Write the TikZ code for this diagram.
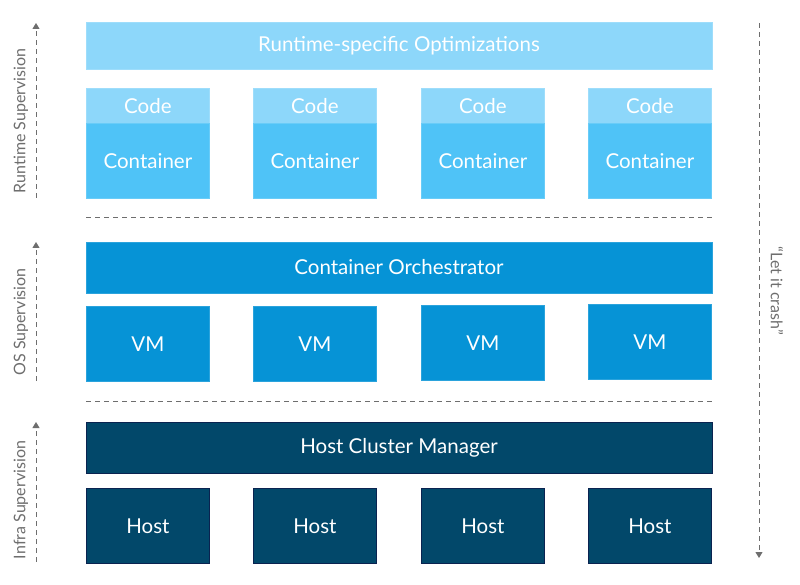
\documentclass[tikz,border=0pt]{standalone}
\usepackage{fontspec}
\setmainfont{Lato}
\usetikzlibrary{arrows.meta,positioning}

\definecolor{codeblue}{HTML}{8DD7FA}
\definecolor{contblue}{HTML}{4FC3F7}
\definecolor{vmblue}{HTML}{0693D6}
\definecolor{hostblue}{HTML}{02486A}
\definecolor{hostline}{HTML}{0A2350}
\definecolor{guidegray}{HTML}{6E6E6E}

\tikzset{
    box/.style={fill=#1, draw=#1!85!white, line width=0.8pt, text=white,
        inner sep=0pt, anchor=north west, minimum width=123pt,
        font=\fontsize{20.5}{22}\selectfont},
    layer/.style={box=#1, anchor=center, minimum width=626pt},
    sep/.style={draw=guidegray, line width=1pt, dash pattern=on 5pt off 4pt},
    guide/.style={sep, -{Triangle[width=7pt,length=6pt]}},
    side/.style={text=guidegray, inner sep=0pt, font=\fontsize{16}{18}\selectfont},
    pics/stack/.style={
        code={
            \node[box=codeblue, minimum height=35pt] (-code) at (0,0) {Code};
            \node[box=contblue, minimum height=75pt] (-cont) at (0,35) {Container};
        }
    }
}

\begin{document}
\begin{tikzpicture}[x=1pt,y=-1pt]
                      \useasboundingbox (0,0) rectangle (800,585);

                      % runtime layer
                      \node[layer=codeblue, minimum height=47pt] (opt) at (399,45.5) {Runtime-specific Optimizations};
                      \pic (s1) at (86,88) {stack};
                      \pic (s2) at (253,88) {stack};
                      \pic (s3) at (421,88) {stack};
                      \pic (s4) at (588,88) {stack};

                      \coordinate (sepa1) at (86,218);
                      \coordinate (sepb1) at (712,218);
                      \draw[sep] (sepa1) -- (sepb1);

                      % os layer
                      \node[layer=vmblue, minimum height=51pt] (orch) at (399,267.5) {Container Orchestrator};
                      \node[box=vmblue, minimum height=75pt] (vm1) at (86,306) {VM};
                      \node[box=vmblue, minimum height=75pt] (vm2) at (253,306) {VM};
                      \node[box=vmblue, minimum height=75pt] (vm3) at (421,305) {VM};
                      \node[box=vmblue, minimum height=75pt] (vm4) at (588,304) {VM};

                      \coordinate (sepa2) at (86,401);
                      \coordinate (sepb2) at (712,401);
                      \draw[sep] (sepa2) -- (sepb2);

                      % infra layer
                      \node[layer=hostblue, draw=hostline, minimum height=51pt] (hcm) at (399,447.5) {Host Cluster Manager};
                      \node[box=hostblue, draw=hostline, minimum height=75pt] (host1) at (86,488) {Host};
                      \node[box=hostblue, draw=hostline, minimum height=75pt] (host2) at (253,488) {Host};
                      \node[box=hostblue, draw=hostline, minimum height=75pt] (host3) at (421,488) {Host};
                      \node[box=hostblue, draw=hostline, minimum height=75pt] (host4) at (588,488) {Host};

                      % supervision arrows
                      \coordinate (rtlow) at (36,198);
                      \coordinate (rthigh) at (36,23);
                      \draw[guide] (rtlow) -- (rthigh);
                      \node[side, rotate=90] (rtlabel) at (21,121) {Runtime Supervision};

                      \coordinate (oslow) at (36,381);
                      \coordinate (oshigh) at (36,242);
                      \draw[guide] (oslow) -- (oshigh);
                      \node[side, rotate=90] (oslabel) at (21,322) {OS Supervision};

                      \coordinate (inlow) at (36,562);
                      \coordinate (inhigh) at (36,422);
                      \draw[guide] (inlow) -- (inhigh);
                      \node[side, rotate=90] (inlabel) at (21,500) {Infra Supervision};

                      \coordinate (crtop) at (759,23);
                      \coordinate (crbottom) at (759,558);
                      \draw[guide] (crtop) -- (crbottom);
                      \node[side, rotate=-90] (crlabel) at (777,291) {“Let it crash”};
                  \end{tikzpicture}
\end{document}
